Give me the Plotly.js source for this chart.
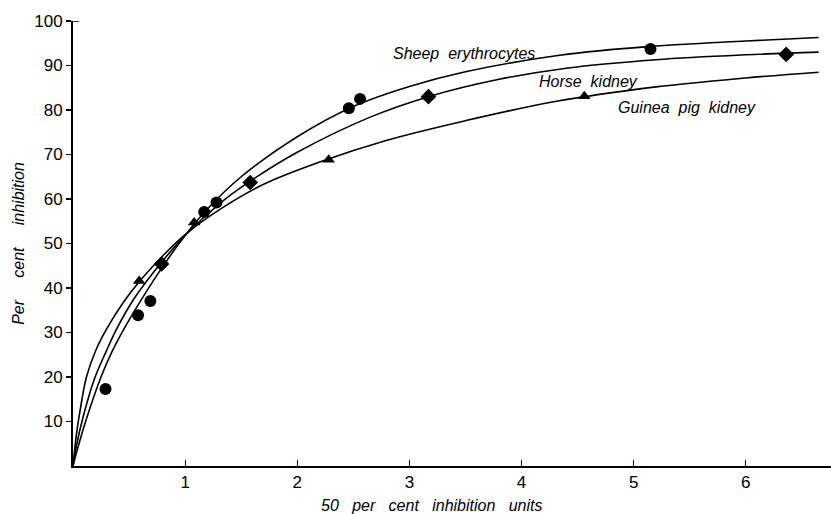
<!DOCTYPE html>
<html>
<head>
<meta charset="utf-8">
<script src="https://cdn.plot.ly/plotly-3.0.1.min.js"></script>
<style>html,body{margin:0;padding:0;background:#fff;}#chart{width:831px;height:514px;}</style>
</head>
<body>
<div id="chart"></div>
<script>
// Measured points (50 per cent inhibition units, per cent inhibition)
const sheepX = [0.29, 0.58, 0.69, 1.17, 1.28, 2.46, 2.56, 5.15];
const sheepY = [17.3, 33.9, 37.1, 57.1, 59.2, 80.4, 82.5, 93.7];
const horseX = [0.79, 1.58, 3.17, 6.36];
const horseY = [45.4, 63.7, 83.0, 92.5];
const guineaX = [0.59, 1.08, 2.28, 4.56];
const guineaY = [41.6, 54.7, 68.8, 83.1];

// Fitted curves
const sheepCurveX = [0, 0.04, 0.12, 0.25, 0.35, 0.475, 0.6, 0.8, 1.0, 1.2, 1.5, 2.0, 2.5, 3.0, 3.5, 4.34, 5.15, 6.0, 6.65];
const sheepCurveY = [0, 3.8, 10.6, 20, 25.8, 31.7, 37, 44.8, 51.8, 57.8, 65, 74, 80.8, 85.3, 88.6, 92.3, 94.3, 95.5, 96.3];
const horseCurveX = [0, 0.03, 0.09, 0.19, 0.3, 0.385, 0.55, 0.79, 1.0, 1.3, 1.58, 2.0, 2.65, 3.17, 3.8, 4.4, 5.2, 6.0, 6.65];
const horseCurveY = [0, 4.5, 11, 19.5, 26, 30.6, 37.8, 45.8, 51.8, 58.8, 64, 70.5, 78.4, 83.0, 86.9, 89.4, 91.3, 92.4, 93.0];
const guineaCurveX = [0, 0.03, 0.06, 0.12, 0.2, 0.3, 0.45, 0.59, 0.8, 1.0, 1.3, 1.7, 2.2, 2.8, 3.5, 4.3, 5.2, 6.0, 6.65];
const guineaCurveY = [0, 7, 12, 20, 25.8, 30.8, 36.8, 41.4, 47.2, 52, 57.5, 63.3, 68.3, 73.2, 77.6, 81.9, 85.2, 87.2, 88.5];

const xTicks = [1, 2, 3, 4, 5, 6];
const yTicks = [10, 20, 30, 40, 50, 60, 70, 80, 90, 100];
const seriesNames = ["Sheep\u00a0 erythrocytes", "Horse\u00a0 kidney", "Guinea\u00a0 pig\u00a0 kidney"];
const xTitle = "50\u00a0\u00a0 per\u00a0\u00a0 cent\u00a0\u00a0 inhibition\u00a0\u00a0 units";
const yTitle = "Per\u00a0\u00a0\u00a0\u00a0 cent\u00a0\u00a0\u00a0\u00a0 inhibition";

const ink = "#000000";
const lineStyle = {color: ink, width: 1.6, shape: "spline", smoothing: 1};

const traces = [
  {x: sheepCurveX, y: sheepCurveY, mode: "lines", line: lineStyle, hoverinfo: "skip", name: seriesNames[0]},
  {x: horseCurveX, y: horseCurveY, mode: "lines", line: lineStyle, hoverinfo: "skip", name: seriesNames[1]},
  {x: guineaCurveX, y: guineaCurveY, mode: "lines", line: lineStyle, hoverinfo: "skip", name: seriesNames[2]},
  {x: sheepX, y: sheepY, mode: "markers", marker: {symbol: "circle", size: 12, color: ink}, name: seriesNames[0]},
  {x: horseX, y: horseY, mode: "markers", marker: {symbol: "diamond", size: 12, color: ink}, name: seriesNames[1]},
  {x: guineaX, y: guineaY, mode: "markers", marker: {symbol: "triangle-up", size: 11, color: ink}, name: seriesNames[2]}
];

const italic = {family: "Liberation Sans, Arial, sans-serif", size: 16, color: ink, style: "italic"};

const layout = {
  width: 831, height: 514,
  margin: {l: 73, r: 0, t: 21, b: 48},
  paper_bgcolor: "#ffffff", plot_bgcolor: "#ffffff",
  showlegend: false,
  font: {family: "Liberation Sans, Arial, sans-serif", color: ink},
  xaxis: {
    range: [0, 6.76], showgrid: false, zeroline: false,
    showline: true, linecolor: ink, linewidth: 2,
    tickmode: "array", tickvals: xTicks, ticktext: xTicks.map(String),
    ticks: "inside", ticklen: 6, tickwidth: 1.2, tickcolor: ink,
    tickfont: {size: 17, color: ink}
  },
  yaxis: {
    range: [0, 100], showgrid: false, zeroline: false,
    showline: true, linecolor: ink, linewidth: 2,
    tickmode: "array", tickvals: yTicks, ticktext: yTicks.map(String),
    ticks: "outside", ticklen: 5, tickwidth: 1.2, tickcolor: ink,
    tickfont: {size: 17, color: ink},
    title: {text: yTitle, font: italic, standoff: 6}
  },
  shapes: [
    {type: "line", xref: "paper", yref: "y", x0: 0, x1: 0.008, y0: 100, y1: 100, line: {color: ink, width: 1.5}}
  ],
  annotations: [
    {x: 0.4736, y: -0.088, xref: "paper", yref: "paper", xanchor: "center", yanchor: "middle", text: xTitle, showarrow: false, font: italic},
    {x: 3.49, y: 92.8, xref: "x", yref: "y", text: seriesNames[0], showarrow: false, font: italic},
    {x: 4.60, y: 86.4, xref: "x", yref: "y", text: seriesNames[1], showarrow: false, font: italic},
    {x: 5.48, y: 80.5, xref: "x", yref: "y", text: seriesNames[2], showarrow: false, font: italic}
  ]
};

Plotly.newPlot("chart", traces, layout, {displayModeBar: false, staticPlot: true});
</script>
</body>
</html>
